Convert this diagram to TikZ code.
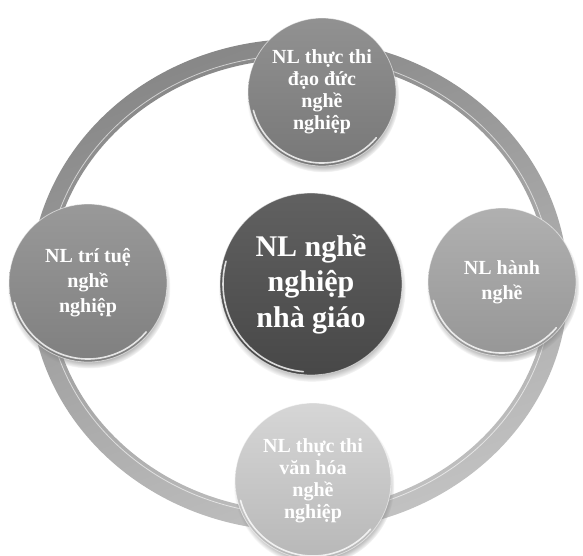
\documentclass[tikz,border=0pt]{standalone}
\usepackage{fontspec}
\setmainfont{Liberation Serif}
\usetikzlibrary{shadows}
\tikzset{
bubble/.style={
circle,
inner sep=0pt,minimum size=#1,align=center,text=white,
draw=white,draw opacity=0.55,line width=0.8pt,
circular drop shadow={shadow xshift=1pt,shadow yshift=-4pt,shadow scale=1.03},
font={\bfseries\fontsize{20pt}{22pt}\selectfont\lineskiplimit=-100pt}},
airy/.style={font={\bfseries\fontsize{20pt}{25pt}\selectfont\lineskiplimit=-100pt}},
ring/.style={even odd rule,top color=black!47,bottom color=black!24,shading angle=20},
gloss/.style={white,opacity=0.8,line width=1.6pt,line cap=round}
}

\begin{document}
\begin{tikzpicture}[x=1pt,y=1pt]
  \useasboundingbox (0,0) rectangle (583,555);
  % the ring behind the bubbles
  \coordinate (mid) at (299,270);
  \shade[ring] (mid) ellipse [x radius=269,y radius=246] (mid) ellipse [x radius=249,y radius=226];
  \draw[white,opacity=0.6,line width=0.8pt] (mid) ellipse [x radius=253,y radius=230];

  \node[bubble=148pt,top color=black!43,bottom color=black!53] (daoduc) at (322,463) {NL thực thi\\đạo đức\\nghề\\nghiệp};
  \node[bubble=158pt,airy,top color=black!40,bottom color=black!50] (tritue) at (88,272) {NL trí tuệ\\nghề\\nghiệp};
  \node[bubble=148pt,airy,top color=black!31,bottom color=black!41] (hanhnghe) at (502,273) {NL hành\\nghề};
  \node[bubble=156pt,top color=black!16,bottom color=black!28] (vanhoa) at (313,74) {NL thực thi\\văn hóa\\nghề\\nghiệp};
  \node[bubble=182pt,top color=black!62,bottom color=black!72,
    font={\bfseries\fontsize{30pt}{35.5pt}\selectfont}] (nghe) at (311,271) {NL nghề\\nghiệp\\nhà giáo};

  % glossy rims
  \draw[gloss] ([shift={(195:71)}]daoduc.center) arc[start angle=195,end angle=320,radius=71];
  \draw[gloss] ([shift={(195:76)}]tritue.center) arc[start angle=195,end angle=320,radius=76];
  \draw[gloss] ([shift={(195:71)}]hanhnghe.center) arc[start angle=195,end angle=320,radius=71];
  \draw[gloss] ([shift={(195:75)}]vanhoa.center) arc[start angle=195,end angle=320,radius=75];
  \draw[gloss] ([shift={(165:88)}]nghe.center) arc[start angle=165,end angle=265,radius=88];
\end{tikzpicture}
\end{document}
